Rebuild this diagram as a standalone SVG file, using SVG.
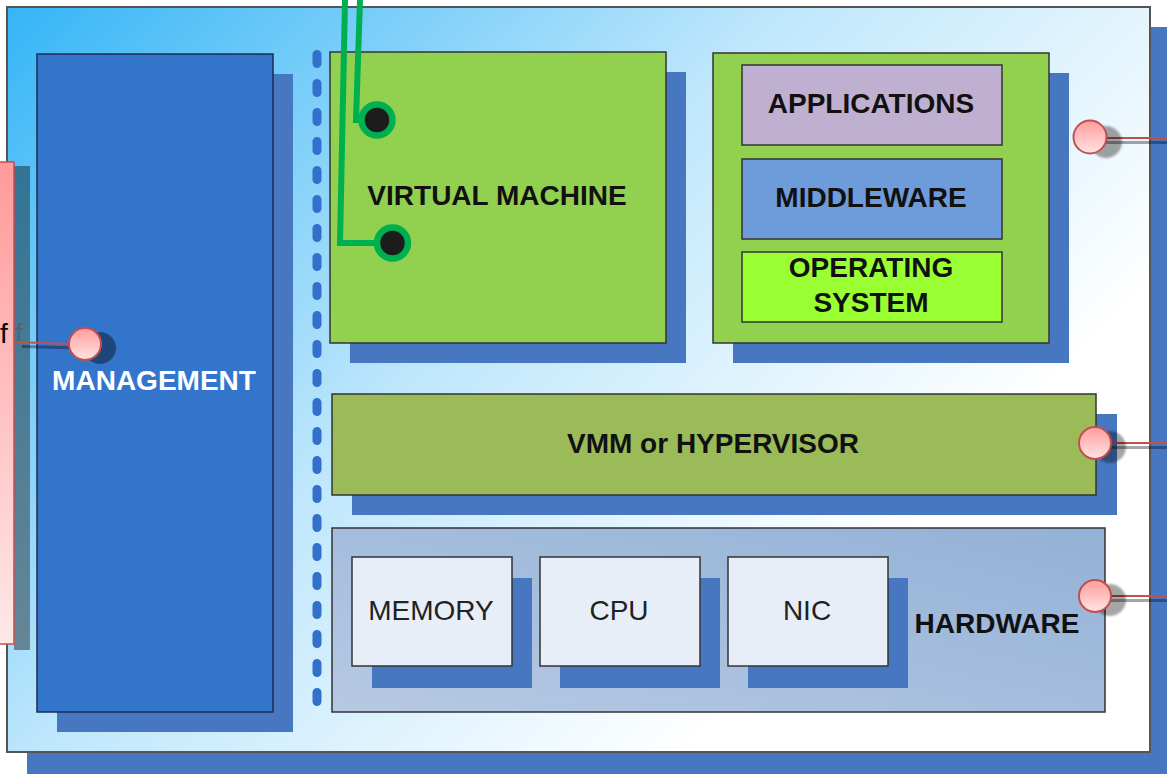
<svg xmlns="http://www.w3.org/2000/svg" width="1167" height="774" viewBox="0 0 1167 774">
  <defs>
    <linearGradient id="frameFill" gradientUnits="userSpaceOnUse" x1="0" y1="0" x2="720" y2="720">
      <stop offset="0" stop-color="#33b4f6"/>
      <stop offset="0.55" stop-color="#bfe7fc"/>
      <stop offset="1" stop-color="#ffffff"/>
    </linearGradient>
    <linearGradient id="pinkFill" x1="0" y1="0" x2="0" y2="1">
      <stop offset="0" stop-color="#ff9a9a"/>
      <stop offset="1" stop-color="#ffe8e8"/>
    </linearGradient>
    <linearGradient id="portFill" x1="0" y1="0" x2="0" y2="1">
      <stop offset="0" stop-color="#ff9c9c"/>
      <stop offset="1" stop-color="#ffe4e4"/>
    </linearGradient>
    <linearGradient id="hwFill" x1="1" y1="0" x2="0" y2="1">
      <stop offset="0" stop-color="#93b1d6"/>
      <stop offset="1" stop-color="#b6c9e3"/>
    </linearGradient>
    <filter id="soft" x="-50%" y="-50%" width="200%" height="200%">
      <feGaussianBlur stdDeviation="1.2"/>
    </filter>
    <style>
      .shadow { fill: #4877c1; }
      .box { stroke: #333333; stroke-width: 1.5; }
      .green { fill: #92d050; }
      .bold { font-family: "Liberation Sans", Arial, sans-serif; font-weight: bold; font-size: 28px; fill: #111111; text-anchor: middle; }
      .plain { font-family: "Liberation Sans", Arial, sans-serif; font-size: 28px; fill: #222222; text-anchor: middle; }
      .port { fill: url(#portFill); stroke: #c0504d; stroke-width: 2; }
      .portShadow { fill: #000000; opacity: 0.35; filter: url(#soft); }
      .wire { stroke: #00b050; stroke-width: 6; fill: none; }
      .pin { fill: #1c1c1c; stroke: #00b050; stroke-width: 6.5; }
      .redLine { stroke: #c0504d; stroke-width: 2; fill: none; }
      .redLineShadow { stroke: #000000; stroke-opacity: 0.35; stroke-width: 3; fill: none; }
    </style>
  </defs>

  <!-- outer frame with drop shadow -->
  <g id="frame">
    <rect class="shadow" x="27" y="27" width="1150" height="760"/>
    <rect x="7" y="7" width="1143" height="745" fill="url(#frameFill)" stroke="#555555" stroke-width="2"/>
  </g>

  <!-- external pink element on the left edge -->
  <g id="external">
    <rect x="14" y="166" width="16" height="484" fill="#000000" opacity="0.4"/>
    <rect x="-20" y="162" width="34" height="482" fill="url(#pinkFill)" stroke="#c0504d" stroke-width="1.5"/>
    <text x="0" y="343" font-family="Liberation Sans, Arial, sans-serif" font-size="28" fill="#000000">f</text>
    <text x="15" y="343" font-family="Liberation Sans, Arial, sans-serif" font-size="28" fill="#555555" opacity="0.55">f</text>
  </g>

  <!-- management column -->
  <g id="management">
    <rect class="shadow" x="57" y="74" width="236" height="658"/>
    <rect x="37" y="54" width="236" height="658" fill="#3475cc" stroke="#1e2d4d" stroke-width="1.5"/>
    <text class="bold" x="154" y="390" fill="#ffffff" style="fill:#ffffff">MANAGEMENT</text>
  </g>

  <!-- dotted separator -->
  <g id="separator">
    <line x1="317" y1="54.5" x2="317" y2="703" stroke="#3370cc" stroke-width="9" stroke-linecap="round" stroke-dasharray="9 20"/>
  </g>

  <!-- virtual machine -->
  <g id="virtual-machine">
    <rect class="shadow" x="350" y="72" width="336" height="291"/>
    <rect class="box green" x="330" y="52" width="336" height="291"/>
    <text class="bold" x="497" y="205">VIRTUAL MACHINE</text>
  </g>

  <!-- guest software stack -->
  <g id="guest-stack">
    <rect class="shadow" x="733" y="73" width="336" height="290"/>
    <rect class="box green" x="713" y="53" width="336" height="290"/>
  </g>
  <g id="applications">
    <rect class="box" x="742" y="65" width="260" height="80" fill="#bfb0d2"/>
    <text class="bold" x="871" y="113">APPLICATIONS</text>
  </g>
  <g id="middleware">
    <rect class="box" x="742" y="159" width="260" height="80" fill="#6e9bd9"/>
    <text class="bold" x="871" y="207">MIDDLEWARE</text>
  </g>
  <g id="operating-system">
    <rect class="box" x="742" y="252" width="260" height="70" fill="#99ff33"/>
    <text class="bold" x="871" y="277">OPERATING</text>
    <text class="bold" x="871" y="312">SYSTEM</text>
  </g>

  <!-- hypervisor -->
  <g id="hypervisor">
    <rect class="shadow" x="352" y="414" width="765" height="101"/>
    <rect class="box" x="332" y="394" width="764" height="101" fill="#9bbb59"/>
    <text class="bold" x="713" y="453">VMM or HYPERVISOR</text>
  </g>

  <!-- hardware layer -->
  <g id="hardware">
    <rect class="box" x="332" y="528" width="773" height="184" fill="url(#hwFill)"/>
    <text class="bold" x="997" y="633">HARDWARE</text>
  </g>
  <g id="memory">
    <rect class="shadow" x="372" y="578" width="160" height="110"/>
    <rect class="box" x="352" y="557" width="160" height="109" fill="#e8eef8"/>
    <text class="plain" x="431" y="620">MEMORY</text>
  </g>
  <g id="cpu">
    <rect class="shadow" x="560" y="578" width="160" height="110"/>
    <rect class="box" x="540" y="557" width="160" height="109" fill="#e8eef8"/>
    <text class="plain" x="619" y="620">CPU</text>
  </g>
  <g id="nic">
    <rect class="shadow" x="748" y="578" width="160" height="110"/>
    <rect class="box" x="728" y="557" width="160" height="109" fill="#e8eef8"/>
    <text class="plain" x="807" y="620">NIC</text>
  </g>

  <!-- connectors -->
  <g id="connectors">
    <!-- green wires into the virtual machine -->
    <polyline class="wire" points="345,0 340,243 392,243"/>
    <polyline class="wire" points="360,0 356,120 377,120"/>
    <circle class="pin" cx="377" cy="120" r="15.5"/>
    <circle class="pin" cx="392.5" cy="243" r="15.5"/>

    <!-- left port -->
    <line class="redLineShadow" x1="22" y1="346.5" x2="80" y2="348"/>
    <line class="redLine" x1="14" y1="342" x2="70" y2="344"/>
    <circle class="portShadow" cx="100" cy="348" r="16" style="filter:none;opacity:0.4"/>
    <circle class="port" cx="85" cy="344" r="16"/>

    <!-- right ports -->
    <line class="redLineShadow" x1="1106" y1="142.5" x2="1167" y2="142.5"/>
    <line class="redLine" x1="1106" y1="138" x2="1167" y2="138"/>
    <circle class="portShadow" cx="1106" cy="142" r="16"/>
    <circle class="port" cx="1090" cy="137" r="16.5"/>

    <line class="redLineShadow" x1="1111" y1="447.5" x2="1167" y2="447.5"/>
    <line class="redLine" x1="1111" y1="443" x2="1167" y2="443"/>
    <circle class="portShadow" cx="1110" cy="447" r="16"/>
    <circle class="port" cx="1095" cy="443" r="16"/>

    <line class="redLineShadow" x1="1111" y1="600.5" x2="1167" y2="600.5"/>
    <line class="redLine" x1="1111" y1="596" x2="1167" y2="596"/>
    <circle class="portShadow" cx="1110" cy="600" r="16"/>
    <circle class="port" cx="1095" cy="596" r="16"/>
  </g>
</svg>
